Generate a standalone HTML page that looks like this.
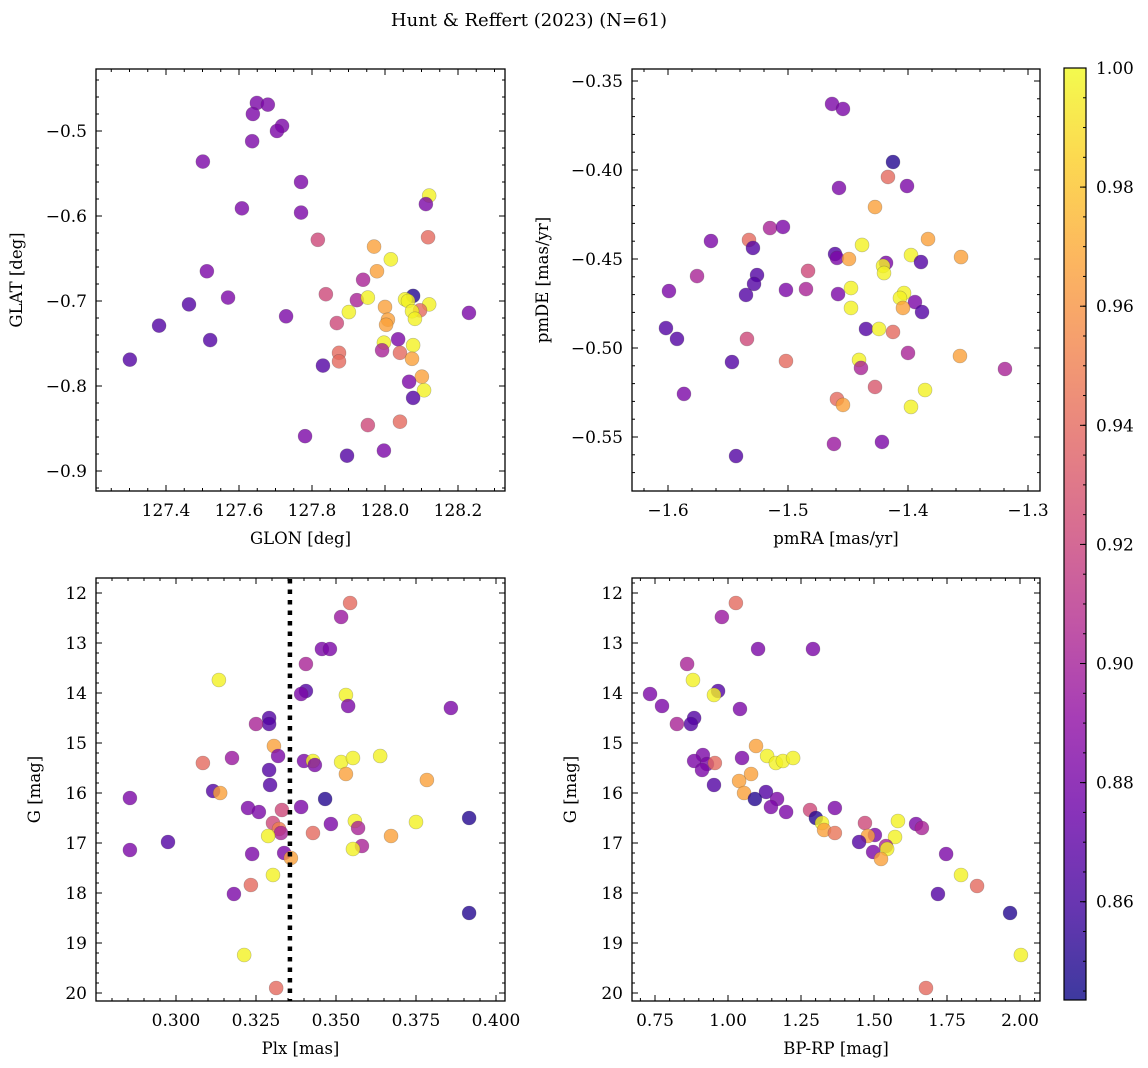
<!DOCTYPE html>
<html><head><meta charset="utf-8"><style>
html,body{margin:0;padding:0;background:#fff;}
svg{display:block;font-family:"DejaVu Serif","Liberation Serif",serif;}
</style></head><body>
<svg id="fig" xmlns="http://www.w3.org/2000/svg" width="1148" height="1068" viewBox="0 0 1148 1068">
<defs>
<linearGradient id="plasma" x1="0" y1="1" x2="0" y2="0">
<stop offset="0" stop-color="#0d0887"/><stop offset="0.1" stop-color="#41049d"/><stop offset="0.2" stop-color="#6a00a8"/><stop offset="0.3" stop-color="#8f0da4"/><stop offset="0.4" stop-color="#b12a90"/><stop offset="0.5" stop-color="#cc4778"/><stop offset="0.6" stop-color="#e16462"/><stop offset="0.7" stop-color="#f2844b"/><stop offset="0.8" stop-color="#fca636"/><stop offset="0.9" stop-color="#fcce25"/><stop offset="1" stop-color="#f0f921"/>
</linearGradient>
</defs>
<text x="529" y="26" text-anchor="middle" font-size="18">Hunt &amp; Reffert (2023) (N=61)</text>
</svg>
<script>
// ---- data ----
const glon = [127.649,127.679,127.638,127.718,127.704,127.636,127.501,127.770,127.608,127.770,128.121,128.112,127.816,128.118,127.970,128.016,127.978,127.940,127.512,127.838,127.570,127.923,127.953,127.463,128.077,128.055,128.063,128.121,128.230,127.729,127.381,127.521,127.301,127.901,127.868,128.000,128.008,128.003,128.096,128.074,128.082,128.036,127.997,127.992,128.077,128.041,128.074,127.874,127.874,127.830,128.101,128.066,128.107,128.077,127.953,128.041,127.781,127.896,127.997];
const glat = [-0.467,-0.469,-0.480,-0.494,-0.500,-0.512,-0.536,-0.560,-0.591,-0.596,-0.576,-0.586,-0.628,-0.625,-0.636,-0.651,-0.665,-0.675,-0.665,-0.692,-0.696,-0.699,-0.696,-0.704,-0.694,-0.698,-0.700,-0.704,-0.714,-0.718,-0.729,-0.746,-0.769,-0.713,-0.726,-0.707,-0.722,-0.728,-0.711,-0.712,-0.721,-0.745,-0.749,-0.758,-0.752,-0.761,-0.768,-0.761,-0.771,-0.776,-0.789,-0.795,-0.805,-0.814,-0.846,-0.842,-0.859,-0.882,-0.876];
const prob1 = [0.882,0.882,0.882,0.882,0.882,0.882,0.882,0.882,0.882,0.882,0.997,0.882,0.922,0.940,0.966,0.997,0.966,0.902,0.882,0.922,0.882,0.902,0.997,0.866,0.850,0.997,0.997,0.997,0.882,0.882,0.866,0.866,0.866,0.997,0.922,0.966,0.966,0.966,0.940,0.997,0.997,0.882,0.997,0.902,0.997,0.940,0.966,0.940,0.940,0.866,0.966,0.882,0.997,0.866,0.922,0.940,0.882,0.866,0.882];

const pmra = [-1.4633,-1.4542,-1.4125,-1.4167,-1.4575,-1.4008,-1.4275,-1.515,-1.5042,-1.5642,-1.5325,-1.5292,-1.4383,-1.3833,-1.4608,-1.4592,-1.4492,-1.3975,-1.3558,-1.3892,-1.4183,-1.4208,-1.42,-1.4833,-1.5758,-1.5258,-1.5283,-1.5992,-1.535,-1.5017,-1.485,-1.4583,-1.4475,-1.4033,-1.4067,-1.3942,-1.3883,-1.4042,-1.4475,-1.6017,-1.5925,-1.5342,-1.435,-1.4242,-1.4125,-1.4,-1.3567,-1.5467,-1.5017,-1.4408,-1.4392,-1.3192,-1.5867,-1.4275,-1.3858,-1.4592,-1.4542,-1.3975,-1.4617,-1.4217,-1.5433];
const pmde = [-0.3629,-0.3657,-0.3955,-0.4039,-0.4101,-0.4090,-0.4208,-0.4326,-0.4320,-0.4399,-0.4393,-0.4438,-0.4421,-0.4388,-0.4472,-0.4494,-0.4500,-0.4478,-0.4489,-0.4517,-0.4522,-0.4539,-0.4579,-0.4567,-0.4596,-0.4590,-0.4640,-0.4680,-0.4702,-0.4674,-0.4669,-0.4697,-0.4663,-0.4691,-0.4719,-0.4742,-0.4798,-0.4775,-0.4775,-0.4888,-0.4949,-0.4949,-0.4893,-0.4893,-0.4910,-0.5028,-0.5045,-0.5079,-0.5073,-0.5067,-0.5112,-0.5118,-0.5258,-0.5219,-0.5236,-0.5287,-0.5320,-0.5331,-0.5539,-0.5528,-0.5607];
const prob2 = [0.882,0.882,0.850,0.940,0.882,0.882,0.966,0.902,0.882,0.882,0.940,0.866,0.997,0.966,0.866,0.882,0.966,0.997,0.966,0.866,0.882,0.997,0.997,0.922,0.902,0.866,0.866,0.882,0.866,0.882,0.902,0.882,0.997,0.997,0.997,0.882,0.866,0.966,0.997,0.866,0.866,0.922,0.866,0.997,0.940,0.902,0.966,0.866,0.940,0.997,0.902,0.902,0.882,0.930,0.997,0.940,0.966,0.997,0.895,0.882,0.866];

const plx = [0.3544,0.3516,0.3456,0.3481,0.3406,0.3134,0.3406,0.3391,0.3531,0.3538,0.3859,0.3291,0.3291,0.325,0.3306,0.3319,0.3175,0.3084,0.34,0.3428,0.3434,0.3516,0.3553,0.3638,0.3531,0.3784,0.3291,0.3294,0.3116,0.3138,0.2856,0.3466,0.3225,0.3259,0.3331,0.3391,0.3303,0.3322,0.3328,0.3288,0.3484,0.3559,0.3569,0.3428,0.3672,0.375,0.3916,0.3581,0.3553,0.2975,0.2856,0.3238,0.3338,0.3359,0.3303,0.3234,0.3181,0.3916,0.3213,0.3313];
const gmag3 = [12.20,12.48,13.12,13.12,13.42,13.74,13.96,14.02,14.04,14.26,14.30,14.50,14.62,14.62,15.06,15.26,15.30,15.40,15.36,15.36,15.44,15.38,15.30,15.26,15.62,15.74,15.54,15.84,15.96,16.00,16.10,16.12,16.30,16.38,16.34,16.28,16.60,16.72,16.80,16.86,16.62,16.56,16.70,16.80,16.86,16.58,16.50,17.06,17.12,16.98,17.14,17.22,17.20,17.30,17.64,17.84,18.02,18.40,19.24,19.90];
const prob3 = [0.940,0.895,0.882,0.882,0.902,0.997,0.866,0.882,0.997,0.882,0.882,0.866,0.866,0.902,0.966,0.882,0.895,0.940,0.882,0.997,0.882,0.997,0.997,0.997,0.966,0.966,0.866,0.866,0.866,0.966,0.882,0.850,0.882,0.882,0.922,0.882,0.922,0.950,0.902,0.997,0.882,0.997,0.902,0.940,0.966,0.997,0.850,0.902,0.997,0.866,0.882,0.882,0.882,0.966,0.997,0.940,0.882,0.850,0.997,0.940];

const bprp = [1.027,0.979,1.103,1.291,0.860,0.880,0.966,0.952,1.041,0.733,0.774,0.884,0.873,0.825,1.096,1.048,1.134,1.164,1.188,1.223,0.914,0.884,0.928,0.955,0.911,1.079,1.038,0.952,1.055,1.130,1.092,1.168,1.147,1.199,1.281,1.366,1.301,1.322,1.329,1.366,1.469,1.582,1.644,1.664,1.503,1.479,1.572,1.449,1.541,1.545,1.497,1.524,1.747,1.798,1.853,1.719,1.966,2.003,1.678];
const gmag4 = [12.20,12.48,13.12,13.12,13.42,13.74,13.96,14.04,14.32,14.02,14.26,14.50,14.62,14.62,15.06,15.30,15.26,15.40,15.36,15.30,15.24,15.36,15.42,15.40,15.54,15.62,15.76,15.84,16.00,15.98,16.12,16.12,16.28,16.38,16.34,16.30,16.50,16.60,16.74,16.80,16.60,16.56,16.62,16.70,16.84,16.86,16.88,16.98,17.06,17.12,17.18,17.32,17.22,17.64,17.86,18.02,18.40,19.24,19.90];
const prob4 = [0.940,0.895,0.882,0.882,0.902,0.997,0.866,0.997,0.882,0.882,0.882,0.866,0.866,0.902,0.966,0.882,0.997,0.997,0.997,0.997,0.882,0.882,0.882,0.940,0.882,0.966,0.966,0.866,0.966,0.866,0.850,0.882,0.882,0.882,0.922,0.882,0.850,0.997,0.966,0.945,0.922,0.997,0.882,0.902,0.882,0.966,0.997,0.866,0.902,0.997,0.882,0.966,0.882,0.997,0.940,0.866,0.850,0.997,0.940];

const cbTicks = [0.86,0.88,0.90,0.92,0.94,0.96,0.98,1.00];
const plxRef = [0.3356];

// ---- rendering ----
const NS = "http://www.w3.org/2000/svg";
const svg = document.getElementById('fig');
function el(tag, attrs, parent) {
  const e = document.createElementNS(NS, tag);
  for (const k in attrs) e.setAttribute(k, attrs[k]);
  (parent || svg).appendChild(e);
  return e;
}
const stops = [[13,8,135],[65,4,157],[106,0,168],[143,13,164],[177,42,144],[204,71,120],[225,100,98],[242,132,75],[252,166,54],[252,206,37],[240,249,33]];
const CMIN = 0.8435, CMAX = 1.0;
function plasma(v) {
  let t = Math.max(0, Math.min(1, (v - CMIN) / (CMAX - CMIN))) * 10;
  const i = Math.min(9, Math.floor(t)), f = t - i;
  const a = stops[i], b = stops[i + 1];
  return 'rgb(' + [0,1,2].map(k => Math.round(a[k] + (b[k] - a[k]) * f)).join(',') + ')';
}
function lin(d0, d1, p0, p1) { return v => p0 + (v - d0) * (p1 - p0) / (d1 - d0); }
function inv(d0, d1, p0, p1) { return p => d0 + (p - p0) * (d1 - d0) / (p1 - p0); }
function fmt(v, dec) { const s = v.toFixed(dec); return s.replace('-', '\u2212'); }

function panel(cfg) {
  const g = el('g', {});
  
  
  const {L, R, T, B} = cfg.box;
  const sx = lin(cfg.xd[0], cfg.xd[1], cfg.xp[0], cfg.xp[1]);
  const sy = lin(cfg.yd[0], cfg.yd[1], cfg.yp[0], cfg.yp[1]);
  const ix = inv(cfg.xd[0], cfg.xd[1], cfg.xp[0], cfg.xp[1]);
  const iy = inv(cfg.yd[0], cfg.yd[1], cfg.yp[0], cfg.yp[1]);
  const pg = el('g', {}, g);
  
  
  for (let i = 0; i < cfg.x.length; i++) {
    const c = el('circle', {cx: sx(cfg.x[i]), cy: sy(cfg.y[i]), r: 7, fill: plasma(cfg.c[i]), 'fill-opacity': 0.8, stroke: 'rgba(70,70,70,0.35)', 'stroke-width': 0.6}, pg);
    
    
  }
  if (cfg.vline) {
    for (const v of cfg.vline) {
      const ln = el('line', {x1: sx(v), x2: sx(v), y1: T + 1, y2: B, stroke: '#000', 'stroke-width': 4.5, 'stroke-dasharray': '4.5,6'}, g);
      
      
    }
  }
  const fr = el('rect', {x: L, y: T, width: R - L, height: B - T, fill: 'none', stroke: '#000', 'stroke-width': 1.3}, g);
  
  
  const tg = el('g', {stroke: '#000', 'stroke-width': 1}, g);
  
  
  const xlo = Math.min(ix(L), ix(R)), xhi = Math.max(ix(L), ix(R));
  const ylo = Math.min(iy(T), iy(B)), yhi = Math.max(iy(T), iy(B));
  const xl = el('g', {'font-size': 17, 'text-anchor': 'middle'}, g);
  
  
  const yl = el('g', {'font-size': 17, 'text-anchor': 'end'}, g);
  
  
  for (let k = Math.ceil(xlo / cfg.xminor - 1e-6); k * cfg.xminor <= xhi + 1e-9; k++) {
    const v = k * cfg.xminor, px = sx(v);
    if (px < L + 2 || px > R - 2) continue;
    const major = Math.abs(v / cfg.xmajor - Math.round(v / cfg.xmajor)) < 1e-4;
    const len = major ? 6 : 3;
    el('line', {x1: px, x2: px, y1: B, y2: B - len}, tg);
    el('line', {x1: px, x2: px, y1: T, y2: T + len}, tg);
    if (major) { const t = el('text', {x: px, y: B + 25}, xl); t.textContent = fmt(v, cfg.xdec); }
  }
  for (let k = Math.ceil(ylo / cfg.yminor - 1e-6); k * cfg.yminor <= yhi + 1e-9; k++) {
    const v = k * cfg.yminor, py = sy(v);
    if (py < T + 2 || py > B - 2) continue;
    const major = Math.abs(v / cfg.ymajor - Math.round(v / cfg.ymajor)) < 1e-4;
    const len = major ? 6 : 3;
    el('line', {x1: L, x2: L + len, y1: py, y2: py}, tg);
    el('line', {x1: R, x2: R - len, y1: py, y2: py}, tg);
    if (major) { const t = el('text', {x: L - 9, y: py + 6}, yl); t.textContent = fmt(v, cfg.ydec); }
  }
  const xt = el('text', {x: (L + R) / 2, y: B + 53, 'text-anchor': 'middle', 'font-size': 16.5}, g);
  xt.textContent = cfg.xlabel;
  
  
  const yx = cfg.ylabelX, yc = (T + B) / 2;
  const yt = el('text', {x: yx, y: yc, 'text-anchor': 'middle', 'font-size': 16.5, transform: 'rotate(-90 ' + yx + ' ' + yc + ')'}, g);
  yt.textContent = cfg.ylabel;
  
  
}

panel({name: 'panel-glon-glat', box: {L: 96, R: 505, T: 69, B: 491}, x: glon, y: glat, c: prob1,
  xd: [127.4, 128.2], xp: [166, 458], yd: [-0.5, -0.9], yp: [131, 471],
  xmajor: 0.2, xminor: 0.05, xdec: 1, ymajor: 0.1, yminor: 0.02, ydec: 1,
  xlabel: 'GLON [deg]', ylabel: 'GLAT [deg]', ylabelX: 22});
panel({name: 'panel-pmra-pmde', box: {L: 632, R: 1040, T: 69, B: 491}, x: pmra, y: pmde, c: prob2,
  xd: [-1.6, -1.3], xp: [668, 1028], yd: [-0.35, -0.55], yp: [81, 437],
  xmajor: 0.1, xminor: 0.02, xdec: 1, ymajor: 0.05, yminor: 0.01, ydec: 2,
  xlabel: 'pmRA [mas/yr]', ylabel: 'pmDE [mas/yr]', ylabelX: 548});
panel({name: 'panel-plx-g', box: {L: 96, R: 505, T: 578, B: 1001}, x: plx, y: gmag3, c: prob3, vline: plxRef,
  xd: [0.300, 0.400], xp: [176, 496], yd: [12, 20], yp: [593, 993],
  xmajor: 0.025, xminor: 0.005, xdec: 3, ymajor: 1, yminor: 0.2, ydec: 0,
  xlabel: 'Plx [mas]', ylabel: 'G [mag]', ylabelX: 40});
panel({name: 'panel-bprp-g', box: {L: 632, R: 1040, T: 578, B: 1001}, x: bprp, y: gmag4, c: prob4,
  xd: [1.0, 2.0], xp: [728, 1020], yd: [12, 20], yp: [593, 993],
  xmajor: 0.25, xminor: 0.05, xdec: 2, ymajor: 1, yminor: 0.2, ydec: 0,
  xlabel: 'BP-RP [mag]', ylabel: 'G [mag]', ylabelX: 576});

(function () {
  const g = el('g', {});
  
  
  const L = 1064, R = 1086, T = 68, B = 1000;
  const sy = lin(CMIN, CMAX, B, T);
  el('rect', {x: L, y: T, width: R - L, height: B - T, fill: 'url(#plasma)', 'fill-opacity': 0.8}, g);
  el('rect', {x: L, y: T, width: R - L, height: B - T, fill: 'none', stroke: '#000', 'stroke-width': 1.2}, g);
  const tg = el('g', {stroke: '#000', 'stroke-width': 1}, g);
  for (let v = 0.845; v <= 1.0001; v += 0.005) {
    el('line', {x1: R, x2: R - 3, y1: sy(v), y2: sy(v)}, tg);
  }
  for (const v of cbTicks) {
    el('line', {x1: R, x2: R - 6, y1: sy(v), y2: sy(v)}, tg);
    const t = el('text', {x: R + 10, y: sy(v) + 6, 'font-size': 17}, g);
    t.textContent = v.toFixed(2);
    
    
  }
})();
</script>
</body></html>
